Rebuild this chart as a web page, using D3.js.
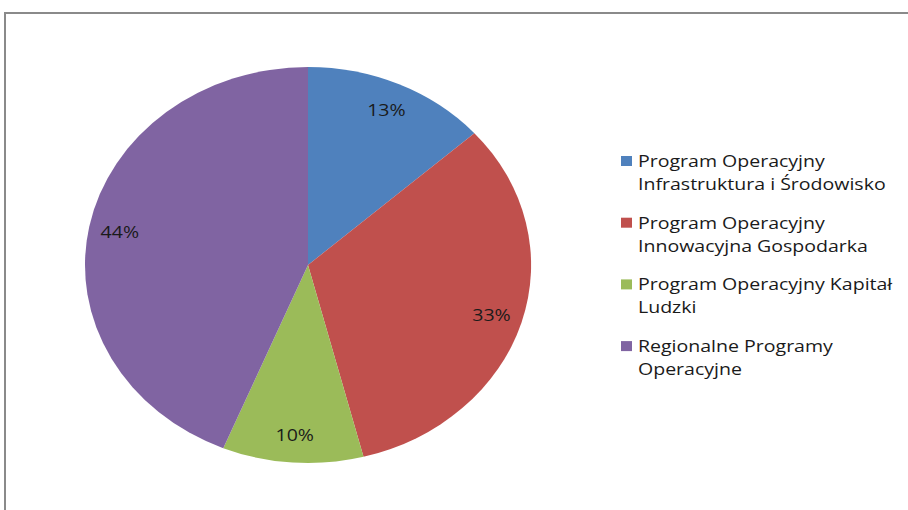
<!DOCTYPE html>
<html>
<head>
<meta charset="utf-8">
<script src="https://cdn.jsdelivr.net/npm/d3@7"></script>
<style>
  body { margin: 0; background: #fff; }
  svg { display: block; font-family: "Open Sans", sans-serif; }
</style>
</head>
<body>
<svg id="chart"></svg>
<script>
const categories = [
    ["Program Operacyjny", "Infrastruktura i Środowisko"],
    ["Program Operacyjny", "Innowacyjna Gospodarka"],
    ["Program Operacyjny Kapitał", "Ludzki"],
    ["Regionalne Programy", "Operacyjne"]
];
const shares = [13.4, 32.6, 10.2, 43.8];
const colors = ["#4f81bd", "#c0504d", "#9bbb59", "#8064a2"];

const width = 908, height = 510;
const cx = 308, cy = 265, rx = 223, ry = 198;
// the original picture is stretched sideways, text included
const stretch = 1.15;

const data = shares.map((v, i) => ({ name: categories[i], value: v, color: colors[i] }));

const svg = d3.select("#chart")
    .attr("width", width)
    .attr("height", height);

// chart frame (runs off the right and bottom of the picture)
svg.append("rect")
    .attr("x", 5).attr("y", 13)
    .attr("width", 920).attr("height", 520)
    .attr("fill", "#fff")
    .attr("stroke", "#8a8a8a")
    .attr("stroke-width", 2);

const pie = d3.pie().sort(null).value(d => d.value);
const arcs = pie(data);

// unit circle, stretched into an ellipse
const arc = d3.arc().innerRadius(0).outerRadius(1);
const labelArc = d3.arc().innerRadius(0.86).outerRadius(0.86);

svg.append("g")
    .attr("transform", `translate(${cx},${cy}) scale(${rx},${ry})`)
  .selectAll("path")
  .data(arcs)
  .join("path")
    .attr("fill", d => d.data.color)
    .attr("d", arc);

const total = d3.sum(shares);
svg.append("g")
    .attr("font-size", 17)
    .attr("fill", "#1a1a1a")
    .attr("text-anchor", "middle")
  .selectAll("text")
  .data(arcs)
  .join("text")
    .attr("transform", d => {
        const [x, y] = labelArc.centroid(d);
        return `translate(${cx + x * rx},${cy + y * ry}) scale(${stretch},1)`;
    })
    .attr("dy", "0.35em")
    .text(d => Math.round(d.data.value / total * 100) + "%");

// legend
const legend = svg.append("g")
    .attr("transform", "translate(621,0)");

const item = legend.selectAll("g")
  .data(data)
  .join("g")
    .attr("transform", (d, i) => `translate(0,${167 + i * 61.7})`);

item.append("rect")
    .attr("x", 0).attr("y", -11)
    .attr("width", 11).attr("height", 10)
    .attr("fill", d => d.color);

item.append("text")
    .attr("transform", `translate(17,0) scale(${stretch},1)`)
    .attr("font-size", 17)
    .attr("fill", "#1a1a1a")
    .selectAll("tspan")
    .data(d => d.name)
    .join("tspan")
      .attr("x", 0)
      .attr("y", (d, i) => i * 23)
      .text(d => d);
</script>
</body>
</html>
